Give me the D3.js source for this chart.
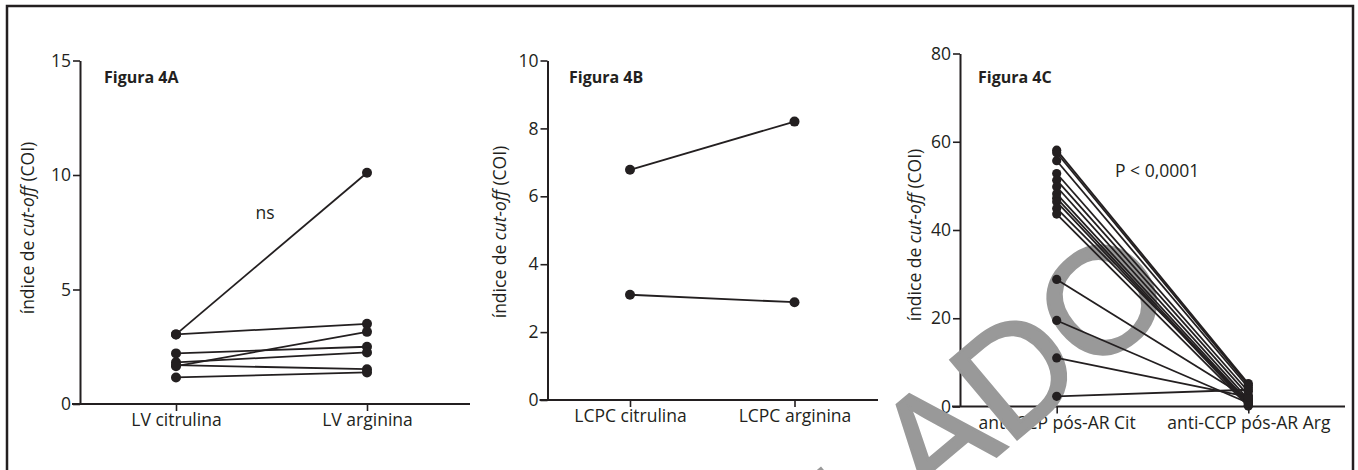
<!DOCTYPE html>
<html><head><meta charset="utf-8">
<script src="https://cdn.jsdelivr.net/npm/d3@7"></script>
<style>
html,body{margin:0;padding:0;background:#fff;}
svg{display:block;font-family:"Open Sans",sans-serif;}
</style></head>
<body>
<svg id="chart" width="1358" height="470"></svg>
<script>
// ---- data ----
const catsA = ["LV citrulina", "LV arginina"];
const citA = [3.04, 3.04, 1.65, 2.21, 1.82, 1.70, 1.16];
const argA = [10.1, 3.50, 3.15, 2.50, 2.25, 1.52, 1.38];
const ticksA = [0, 5, 10, 15];

const catsB = ["LCPC citrulina", "LCPC arginina"];
const citB = [6.78, 3.10];
const argB = [8.20, 2.88];
const ticksB = [0, 2, 4, 6, 8, 10];

const catsC = ["anti-CCP pós-AR Cit", "anti-CCP pós-AR Arg"];
const citC = [58.1, 57.5, 55.7, 52.8, 51.3, 49.8, 48.2, 47.2, 46.4, 44.9, 43.6, 28.8, 19.5, 11.0, 2.3];
const argC = [5.2, 4.8, 4.3, 3.4, 2.5, 1.6, 1.0, 0.6, 0.3, 1.2, 0.1, 1.8, 0.8, 2.2, 3.8];
const ticksC = [0, 20, 40, 60, 80];

const titles = ["Figura 4A", "Figura 4B", "Figura 4C"];
const annotations = ["ns", "", "P < 0,0001"];
const yTitleMain = "índice de ";
const yTitleItal = "cut-off";
const yTitleEnd = " (COI)";
const watermark = "CANCELADO";

const ink = "#231f20";
const fs = 17.5;
const svg = d3.select("#chart");

// outer frame
svg.append("rect").attr("x", 7).attr("y", 6).attr("width", 1346).attr("height", 480)
  .attr("fill", "none").attr("stroke", ink).attr("stroke-width", 2.5);

const axesLayer = svg.append("g");
const wmLayer = svg.append("g");
const marksLayer = svg.append("g");

const panels = [
  {cats: catsA, cit: citA, arg: argA, ticks: ticksA, max: 15,
   x0: 80, xEnd: 470, p0: 176, p1: 367, yTop: 60.5, yBot: 404, r: 5,
   ytx: 34, yty: 228, title: [104, 83], ann: [265, 219], anchor: "middle"},
  {cats: catsB, cit: citB, arg: argB, ticks: ticksB, max: 10,
   x0: 547.5, xEnd: 878, p0: 630, p1: 794.5, yTop: 60.5, yBot: 400, r: 5,
   ytx: 506, yty: 232, title: [569, 83], ann: [0, 0], anchor: "middle"},
  {cats: catsC, cit: citC, arg: argC, ticks: ticksC, max: 80,
   x0: 960, xEnd: 1345, p0: 1056.7, p1: 1248.3, yTop: 53.5, yBot: 406.5, r: 4.6,
   ytx: 921, yty: 235, title: [978, 83], ann: [1115, 177], anchor: "start"}
];

panels.forEach((p, i) => {
  const g = axesLayer.append("g");
  const m = marksLayer.append("g");
  const x = d3.scalePoint().domain(p.cats).range([p.p0, p.p1]);
  const y = d3.scaleLinear().domain([0, p.max]).range([p.yBot, p.yTop]);

  // y axis
  const ya = g.append("g").attr("transform", `translate(${p.x0},0)`)
    .call(d3.axisLeft(y).tickValues(p.ticks).tickSize(7).tickPadding(2).tickSizeOuter(0));
  ya.select(".domain").attr("stroke", ink).attr("stroke-width", 2);
  ya.selectAll(".tick line").attr("stroke", ink).attr("stroke-width", 1.6);
  ya.selectAll(".tick text").attr("fill", ink).attr("font-size", fs)
    .attr("font-family", "Open Sans, sans-serif");

  // x axis
  const xa = g.append("g").attr("transform", `translate(0,${p.yBot})`)
    .call(d3.axisBottom(x).tickSize(7).tickPadding(3).tickSizeOuter(0));
  xa.select(".domain").remove();
  xa.selectAll(".tick line").attr("stroke", ink).attr("stroke-width", 1.6);
  xa.selectAll(".tick text").attr("fill", ink).attr("font-size", fs)
    .attr("font-family", "Open Sans, sans-serif");
  g.append("line").attr("x1", p.x0 - 8).attr("x2", p.xEnd)
    .attr("y1", p.yBot).attr("y2", p.yBot).attr("stroke", ink).attr("stroke-width", 2);

  // y title
  const yt = g.append("text")
    .attr("transform", `translate(${p.ytx},${p.yty}) rotate(-90)`)
    .attr("text-anchor", "middle").attr("font-size", fs).attr("fill", ink);
  yt.append("tspan").text(yTitleMain);
  yt.append("tspan").attr("font-style", "italic").text(yTitleItal);
  yt.append("tspan").text(yTitleEnd);

  // title
  g.append("text").attr("x", p.title[0]).attr("y", p.title[1])
    .attr("font-size", 16).attr("font-weight", "bold").attr("fill", ink).text(titles[i]);
  if (annotations[i]) {
    g.append("text").attr("x", p.ann[0]).attr("y", p.ann[1]).attr("text-anchor", p.anchor)
      .attr("font-size", fs).attr("fill", ink).text(annotations[i]);
  }

  // lines + points
  const pairs = p.cit.map((v, k) => [v, p.arg[k]]);
  m.selectAll("line.pair").data(pairs).enter().append("line")
    .attr("x1", x(p.cats[0])).attr("x2", x(p.cats[1]))
    .attr("y1", d => y(d[0])).attr("y2", d => y(d[1]))
    .attr("stroke", ink).attr("stroke-width", 1.8);
  m.selectAll("circle.c").data(p.cit).enter().append("circle")
    .attr("cx", x(p.cats[0])).attr("cy", d => y(d)).attr("r", p.r).attr("fill", ink);
  m.selectAll("circle.a").data(p.arg).enter().append("circle")
    .attr("cx", x(p.cats[1])).attr("cy", d => y(d)).attr("r", p.r).attr("fill", ink);
});

// watermark
wmLayer.append("text")
  .attr("transform", "translate(1180,302) rotate(-40)")
  .attr("text-anchor", "end")
  .attr("font-family", "Liberation Sans, Arial, sans-serif")
  .attr("font-size", 150).attr("fill", "#999999")
  .attr("stroke", "#999999").attr("stroke-width", 3)
  .text(watermark);
</script>
</body></html>
